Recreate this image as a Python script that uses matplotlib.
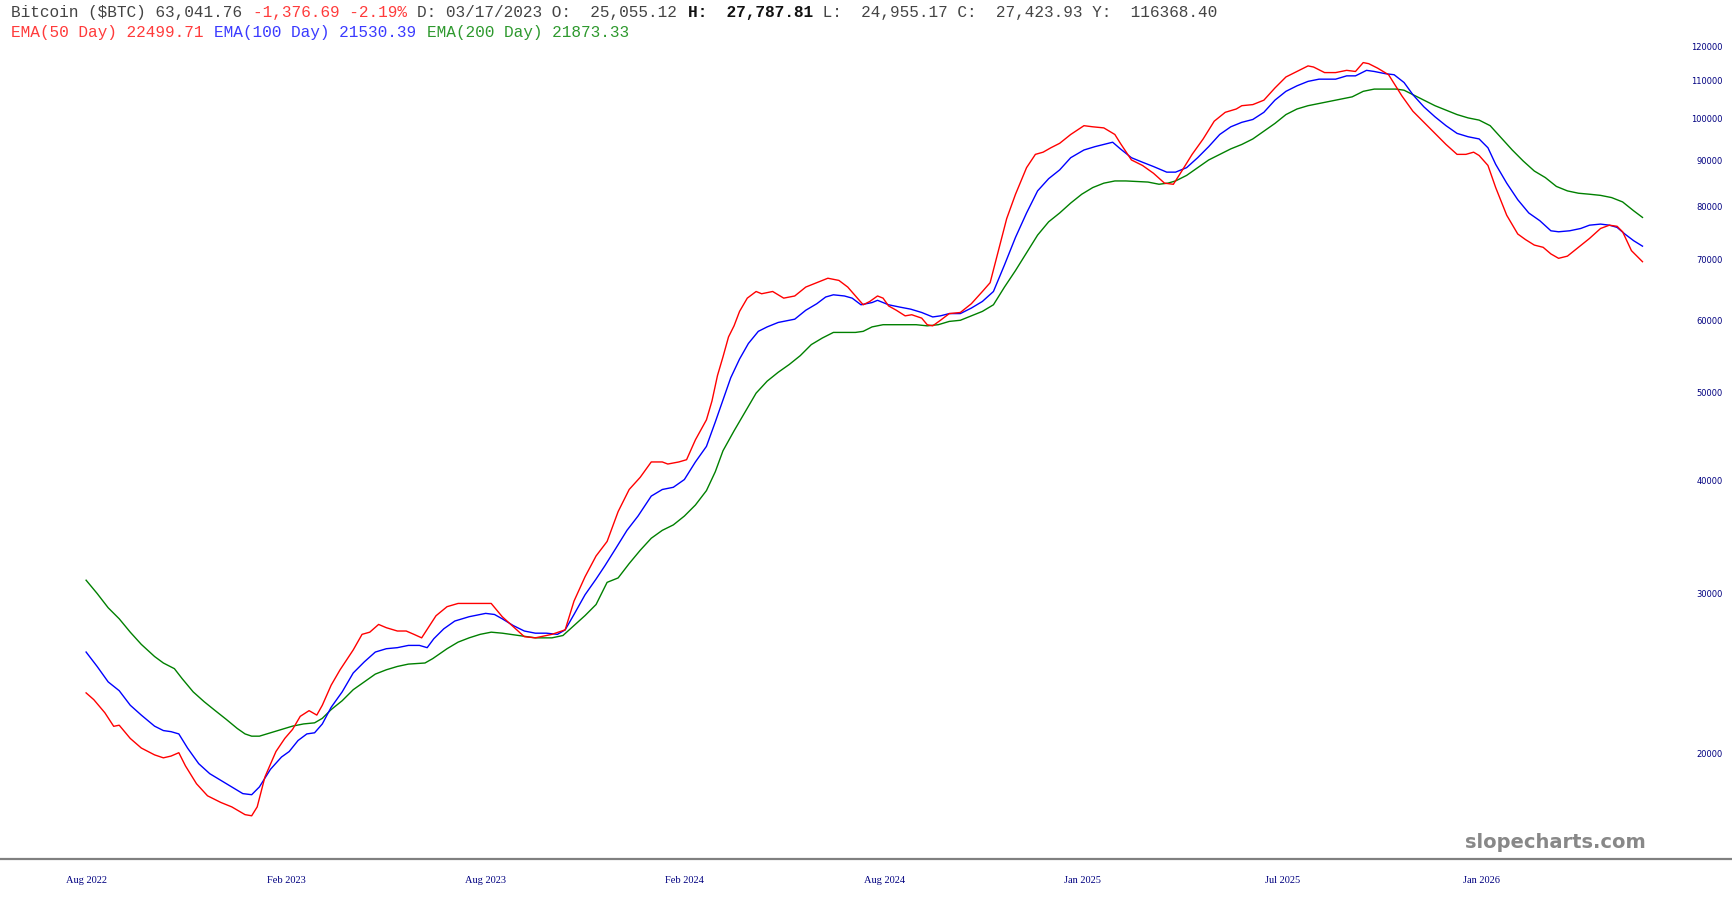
import matplotlib
matplotlib.use('Agg')
import matplotlib.pyplot as plt
import matplotlib.transforms as mtransforms

# ---------------------------------------------------------------------------
# data (x = bars since first label, y = price)
# ---------------------------------------------------------------------------
ema50_day = [0, 7, 17, 25, 30, 40, 50, 62, 70, 77, 84, 90, 100, 110, 122, 132, 144, 150,
             155, 162, 172, 180, 187, 194, 202, 209, 214, 222, 230, 242, 250, 257, 265,
             272, 282, 290, 297, 304, 310, 317, 327, 337, 360, 367, 377, 387, 397, 407,
             422, 434, 442, 452, 462, 472, 482, 492, 502, 512, 522, 527, 537, 544, 552,
             562, 567, 572, 577, 582, 587, 592, 599, 607, 612, 622, 632, 642, 652, 662,
             672, 682, 690, 697, 704, 710, 717, 722, 727, 734, 742, 748, 757, 762, 767,
             774, 782, 792, 802, 812, 819, 827, 834, 842, 852, 860, 867, 874, 882, 892,
             904, 912, 922, 932, 937, 947, 957, 967, 977, 985, 992, 1002, 1012, 1022,
             1032, 1042, 1047, 1057, 1067, 1077, 1087, 1097, 1107, 1112, 1122, 1132,
             1142, 1150, 1157, 1162, 1170, 1180, 1192, 1202, 1212, 1222, 1232, 1242,
             1250, 1257, 1262, 1270, 1277, 1287, 1297, 1304, 1312, 1320, 1327, 1334,
             1342, 1352, 1362, 1372, 1380, 1387, 1392, 1400, 1410]
ema50_val = [23400, 23000, 22250, 21500, 21560, 20850, 20350, 20000, 19850, 19940, 20110,
             19450, 18590, 18030, 17730, 17530, 17190, 17140, 17530, 18910, 20170, 20850,
             21330, 22050, 22370, 22120, 22680, 23860, 24800, 26090, 27140, 27290, 27830,
             27600, 27370, 27370, 27140, 26900, 27600, 28450, 29110, 29350, 29350, 29350,
             28380, 27670, 26980, 26900, 27140, 27450, 29520, 31400, 33100, 34340, 37040,
             39170, 40400, 42000, 42000, 41780, 42000, 42240, 44420, 46730, 49010, 52280,
             54820, 57650, 59290, 61500, 63600, 64680, 64310, 64680, 63600, 63950, 65410,
             66140, 66890, 66520, 65410, 63950, 62540, 63070, 63950, 63600, 62360, 61680,
             60810, 60980, 60460, 59460, 59290, 60130, 61160, 61330, 62710, 64680, 66140,
             72140, 77790, 82750, 88510, 91540, 92050, 93080, 94140, 96270, 98440, 98160,
             97890, 96270, 94140, 90260, 89010, 87260, 85100, 84860, 87510, 91540, 95190,
             99560, 101830, 102690, 103550, 103840, 105010, 108300, 111370, 112930, 114530,
             114210, 112610, 112610, 113250, 112930, 115500, 115180, 113890, 112000,
             106170, 102110, 99280, 96540, 93870, 91540, 91540, 92050, 91280, 89010,
             84160, 78460, 74820, 73770, 72750, 72340, 71140, 70350, 70740, 72340, 73980,
             75870, 76510, 76290, 75240, 71730, 69750]

ema100_day = [0, 10, 20, 30, 40, 50, 62, 70, 77, 84, 92, 102, 112, 122, 132, 142, 150, 157,
              167, 177, 184, 192, 200, 207, 214, 222, 232, 242, 252, 262, 272, 282, 292,
              302, 309, 315, 324, 334, 347, 362, 370, 377, 387, 397, 407, 417, 427, 434,
              442, 452, 462, 470, 480, 490, 500, 512, 522, 532, 542, 552, 562, 570, 577,
              584, 592, 600, 609, 617, 627, 637, 642, 652, 662, 670, 677, 687, 694, 702,
              712, 717, 727, 737, 747, 757, 767, 774, 782, 792, 802, 812, 822, 832, 842,
              852, 862, 872, 882, 892, 904, 914, 922, 930, 937, 947, 957, 967, 979, 987,
              997, 1007, 1017, 1027, 1037, 1047, 1057, 1067, 1077, 1087, 1097, 1107, 1117,
              1132, 1142, 1150, 1160, 1167, 1177, 1185, 1194, 1202, 1212, 1222, 1232, 1242,
              1252, 1262, 1270, 1277, 1287, 1297, 1307, 1317, 1327, 1334, 1344, 1354, 1362,
              1372, 1380, 1387, 1394, 1402, 1410]
ema100_val = [25950, 25020, 24060, 23530, 22680, 22120, 21510, 21270, 21210, 21090, 20340,
              19560, 19070, 18750, 18440, 18130, 18080, 18440, 19280, 19890, 20170, 20740,
              21090, 21150, 21630, 22560, 23460, 24610, 25310, 25950, 26170, 26240, 26390,
              26390, 26240, 26840, 27520, 28070, 28380, 28620, 28540, 28230, 27750, 27370,
              27220, 27220, 27140, 27450, 28540, 30000, 31220, 32290, 33760, 35320, 36620,
              38520, 39170, 39390, 40170, 42000, 43690, 46470, 49150, 51980, 54510, 56700,
              58470, 59130, 59800, 60130, 60300, 61680, 62710, 63780, 64140, 63950, 63600,
              62540, 62890, 63250, 62540, 62180, 61850, 61330, 60640, 60810, 61160, 61160,
              62020, 63070, 64680, 69180, 74190, 78910, 83450, 86070, 88010, 90770, 92560,
              93350, 93870, 94400, 92820, 90770, 89740, 88760, 87510, 87510, 88510, 90770,
              93350, 96270, 98160, 99280, 100000, 101830, 105010, 107390, 108900, 110130,
              110750, 110750, 111680, 111680, 113250, 112930, 112300, 112000, 109810,
              106480, 103240, 100680, 98440, 96540, 95720, 95190, 93080, 89260, 85100,
              81610, 78910, 77380, 75430, 75240, 75430, 75870, 76510, 76720, 76510, 76080,
              74820, 73560, 72550]

ema200_day = [0, 10, 20, 30, 40, 50, 62, 70, 80, 87, 97, 107, 117, 127, 137, 144, 150, 157,
              167, 177, 187, 197, 207, 214, 222, 232, 242, 252, 262, 272, 282, 292, 307,
              314, 327, 337, 347, 357, 367, 377, 392, 407, 422, 432, 442, 452, 462, 472,
              482, 492, 502, 512, 522, 532, 542, 552, 562, 570, 577, 587, 597, 607, 617,
              627, 637, 647, 657, 667, 677, 697, 704, 712, 722, 752, 762, 772, 782, 792,
              802, 812, 822, 832, 842, 852, 862, 872, 882, 892, 902, 912, 922, 932, 942,
              962, 972, 980, 987, 997, 1007, 1017, 1027, 1037, 1047, 1057, 1067, 1077,
              1087, 1097, 1107, 1117, 1127, 1137, 1147, 1157, 1167, 1187, 1194, 1202, 1212,
              1222, 1232, 1242, 1252, 1262, 1272, 1282, 1292, 1302, 1312, 1322, 1332, 1342,
              1352, 1362, 1372, 1382, 1392, 1402, 1410]
ema200_val = [31130, 30100, 29030, 28230, 27290, 26460, 25660, 25240, 24880, 24260, 23460,
              22880, 22370, 21880, 21380, 21090, 20970, 20970, 21150, 21330, 21510, 21630,
              21690, 21940, 22430, 22940, 23590, 24060, 24540, 24810, 25020, 25170, 25240,
              25520, 26170, 26610, 26900, 27140, 27290, 27220, 27060, 26900, 26900, 27060,
              27750, 28460, 29270, 30960, 31310, 32470, 33580, 34620, 35320, 35810, 36620,
              37660, 39060, 40970, 43210, 45440, 47660, 50000, 51540, 52710, 53760, 54980,
              56540, 57490, 58310, 58310, 58470, 59130, 59460, 59460, 59290, 59460, 59960,
              60130, 60810, 61500, 62540, 65410, 68210, 71340, 74610, 77160, 78910, 80920,
              82750, 84160, 85100, 85580, 85580, 85340, 84870, 85100, 85580, 86790, 88510,
              90250, 91540, 92820, 93870, 95190, 97080, 99000, 101250, 102690, 103550,
              104130, 104720, 105310, 105900, 107390, 108000, 108000, 107690, 106480,
              105010, 103550, 102400, 101250, 100400, 99840, 98440, 95450, 92560, 90000,
              87760, 86310, 84400, 83450, 82960, 82750, 82510, 82050, 81150, 79350, 78030]

x_tick_pos = [0, 181, 362, 542, 723, 903, 1084, 1264]
x_tick_labels = ['Aug 2022', 'Feb 2023', 'Aug 2023', 'Feb 2024', 'Aug 2024',
                 'Jan 2025', 'Jul 2025', 'Jan 2026']
y_ticks = [20000, 30000, 40000, 50000, 60000, 70000, 80000, 90000, 100000, 110000, 120000]

header_top = [('Bitcoin ($BTC) 63,041.76 ', '#444444', 'normal'),
              ('-1,376.69 -2.19% ', '#ff3b3b', 'normal'),
              ('D: 03/17/2023 O:  25,055.12 ', '#444444', 'normal'),
              ('H:  27,787.81', '#111111', 'bold'),
              (' L:  24,955.17 C:  27,423.93 Y:  116368.40', '#444444', 'normal')]
header_ema = [('EMA(50 Day) 22499.71 ', '#ff3b3b', 'normal'),
              ('EMA(100 Day) 21530.39 ', '#3b3bff', 'normal'),
              ('EMA(200 Day) 21873.33', '#2e992e', 'normal')]

# ---------------------------------------------------------------------------
# figure
# ---------------------------------------------------------------------------
W, H = 1733, 900
fig = plt.figure(figsize=(W / 100, H / 100), dpi=100)
ax = fig.add_axes([0, 1 - 859 / H, 1, 859 / H])

ax.plot(ema200_day, ema200_val, color='#008000', lw=1.0)
ax.plot(ema100_day, ema100_val, color='#0000ff', lw=1.0)
ax.plot(ema50_day, ema50_val, color='#ff0000', lw=1.0)

ax.set_yscale('log')
ax.set_ylim(15363, 135340)
ax.set_xlim(-78, 1492)

for s in ['top', 'left', 'right']:
    ax.spines[s].set_visible(False)
ax.spines['bottom'].set_color('#808080')
ax.spines['bottom'].set_linewidth(1.6)

ax.set_xticks(x_tick_pos)
ax.set_xticklabels(x_tick_labels, family='Liberation Serif', fontsize=7.5, color='#000080')
ax.tick_params(axis='x', length=0, pad=12)
ax.set_yticks([])
ax.yaxis.set_minor_locator(matplotlib.ticker.NullLocator())

# price labels on the right
trans = mtransforms.blended_transform_factory(ax.transAxes, ax.transData)
for v in y_ticks:
    ax.text(1722.5 / W, v, str(v), transform=trans, ha='right', va='center',
            fontsize=6, color='#000080', family='DejaVu Sans')

# header lines, monospace segments
fs = 11.6
char_w = 0.6 * fs * 100 / 72
for row, yy in [(header_top, 12), (header_ema, 33)]:
    n = 0
    for txt, col, wt in row:
        fig.text((11 + n * char_w) / W, 1 - yy / H, txt, family='Liberation Mono',
                 fontsize=fs, color=col, weight=wt, ha='left', va='center')
        n += len(txt)

fig.text(1646 / W, 1 - 842 / H, 'slopecharts.com', ha='right', va='center',
         fontsize=14, weight='bold', color='#888888', family='DejaVu Sans')

fig.savefig('out.png', dpi=100)
